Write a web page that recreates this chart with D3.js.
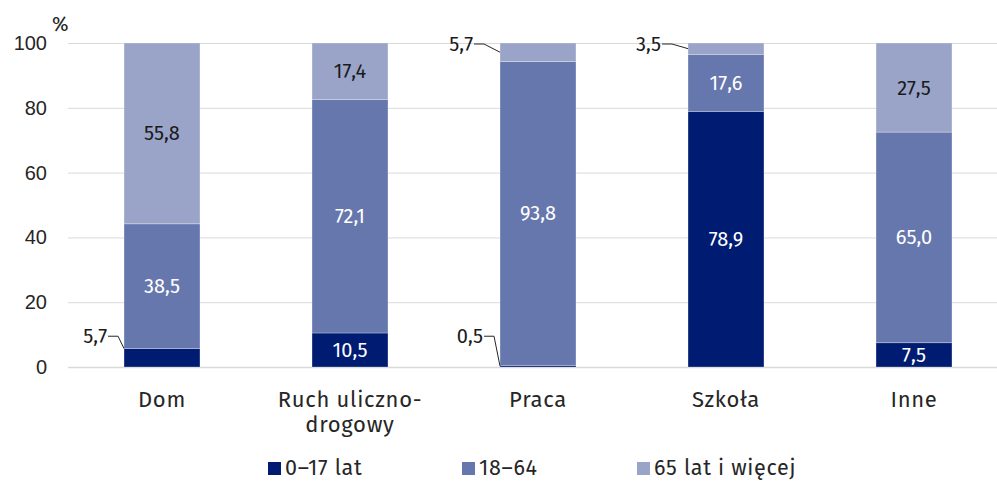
<!DOCTYPE html>
<head>
    <meta charset="UTF-8" />
    <style>
        body { margin: 0; padding: 0; background: #fff; }
        svg { display: block; font-family: "Fira Sans", "Noto Sans", sans-serif; }
        .grid line { stroke: #d9d9d9; stroke-width: 1px; }
        .num { font-size: 20px; }
        .word { font-size: 22px; letter-spacing: 0.7px; }
        .legend text { font-size: 21.5px; }
        .leader { fill: none; stroke: #262626; stroke-width: 1px; }
    </style>
    <title>Wypadki wg miejsca</title>
</head>

<svg width="997" height="482"></svg>
<script src="https://d3js.org/d3.v7.min.js"></script>

<script>
    // data
    const categories = ["Dom", "Ruch uliczno-drogowy", "Praca", "Szkoła", "Inne"]
    const categoryLines = [["Dom"], ["Ruch uliczno-", "drogowy"], ["Praca"], ["Szkoła"], ["Inne"]]
    const seriesNames = ["0–17 lat", "18–64", "65 lat i więcej"]
    const age0to17 = [5.7, 10.5, 0.5, 78.9, 7.5]
    const age18to64 = [38.5, 72.1, 93.8, 17.6, 65.0]
    const age65plus = [55.8, 17.4, 5.7, 3.5, 27.5]
    const yTicks = [0, 20, 40, 60, 80, 100]

    const colors = ["#001c72", "#6677ad", "#9aa4c9"]
    const textColors = ["#ffffff", "#ffffff", "#1a1a1a"]

    const svg = d3.select("svg")
    const fmt = v => d3.format(".1f")(v).replace(".", ",")

    const x = d3.scaleBand()
        .domain(categories)
        .range([68, 1008])
        .paddingInner(0.596)
        .paddingOuter(0.298)

    const y = d3.scaleLinear().domain([0, 100]).range([367, 43])

    // gridlines
    svg.append("g").attr("class", "grid")
        .selectAll("line").data(yTicks).enter().append("line")
        .attr("x1", 68).attr("x2", 997)
        .attr("y1", d => y(d) + 0.5).attr("y2", d => y(d) + 0.5)
        .style("stroke-width", d => d === 0 ? 1.5 : 1)

    // y axis labels
    const yAxis = svg.append("g")
        .attr("transform", "translate(47,0)")
        .call(d3.axisLeft(y).tickValues(yTicks).tickSize(0).tickPadding(0))
    yAxis.select(".domain").remove()
    yAxis.selectAll("text")
        .attr("class", "num")
        .style("font-size", "20px")
        .style("font-family", "inherit")
        .attr("fill", "#262626")

    svg.append("text").attr("class", "num")
        .attr("x", 52).attr("y", 31)
        .attr("fill", "#262626")
        .text("%")

    // stack
    const rows = categories.map((c, i) => ({
        cat: c, s0: age0to17[i], s1: age18to64[i], s2: age65plus[i]
    }))
    const stack = d3.stack().keys(["s0", "s1", "s2"])(rows)

    const layer = svg.selectAll(".layer")
        .data(stack).enter().append("g")
        .attr("class", "layer")
        .attr("fill", (d, i) => colors[i])

    layer.selectAll("rect")
        .data(d => d).enter().append("rect")
        .attr("x", d => x(d.data.cat))
        .attr("width", x.bandwidth())
        .attr("y", d => y(d[1]))
        .attr("height", d => y(d[0]) - y(d[1]))
        .attr("stroke", "#ffffff")
        .attr("stroke-opacity", 0.35)
        .attr("stroke-width", 0.8)

    // value labels
    stack.forEach((layerData, si) => {
        layerData.forEach(d => {
            const v = d[1] - d[0]
            const left = x(d.data.cat)
            const mid = (y(d[0]) + y(d[1])) / 2
            if (v >= 7) {
                svg.append("text").attr("class", "num")
                    .attr("x", left + x.bandwidth() / 2)
                    .attr("y", mid)
                    .attr("dy", "0.35em")
                    .attr("text-anchor", "middle")
                    .attr("fill", textColors[si])
                    .text(fmt(v))
            } else {
                // small segment: label to the left with a leader line
                const top = d[1] >= 99.9
                const ly = top ? y(100) + 1 : y(9.5)
                const ex = left
                const ey = si === 0 && d[0] === 0 && v > 2 ? y(d[1]) : mid
                const bend = top ? 16 : 6
                const tx = ex - bend - 11
                svg.append("path").attr("class", "leader")
                    .attr("d", `M ${tx + 1} ${ly} L ${ex - bend} ${ly} L ${ex} ${ey}`)
                svg.append("text").attr("class", "num")
                    .attr("x", tx)
                    .attr("y", ly)
                    .attr("dy", "0.35em")
                    .attr("text-anchor", "end")
                    .attr("fill", "#1a1a1a")
                    .text(fmt(v))
            }
        })
    })

    // category labels
    categories.forEach((c, i) => {
        const t = svg.append("text").attr("class", "word")
            .attr("text-anchor", "middle")
            .attr("fill", "#262626")
        categoryLines[i].forEach((line, li) => {
            t.append("tspan")
                .attr("x", x(c) + x.bandwidth() / 2)
                .attr("y", 407 + li * 25)
                .text(line)
        })
    })

    // legend
    const legendX = [268, 462, 637]
    const legend = svg.selectAll(".legend")
        .data(seriesNames).enter().append("g")
        .attr("class", "legend word")
        .attr("transform", (d, i) => `translate(${legendX[i]},462)`)
    legend.append("rect")
        .attr("width", 13).attr("height", 13)
        .attr("fill", (d, i) => colors[i])
    legend.append("text")
        .attr("x", 17).attr("y", 13)
        .attr("fill", "#262626")
        .text(d => d)
</script>
